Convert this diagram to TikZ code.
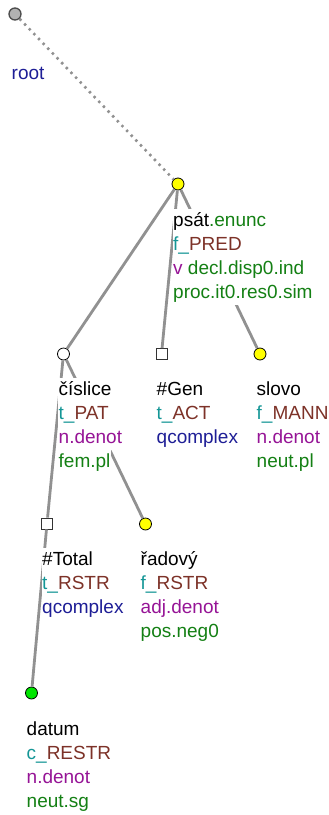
\documentclass[tikz,border=0pt]{standalone}
\usepackage{fontspec}
\setmainfont{Liberation Sans}
\definecolor{cgreen}{RGB}{20,128,20}
\definecolor{cteal}{RGB}{20,150,150}
\definecolor{cbrown}{RGB}{125,50,40}
\definecolor{cpurple}{RGB}{150,20,150}
\definecolor{cblue}{RGB}{30,30,150}
\definecolor{cedge}{RGB}{145,145,145}
\definecolor{cyell}{RGB}{255,255,0}
\definecolor{cgreenn}{RGB}{0,230,0}
\tikzset{
  tcirc/.style={circle, draw=black, line width=0.8pt, minimum size=12pt, inner sep=0pt},
  tsq/.style={rectangle, draw=black!80, line width=0.8pt, fill=white, minimum size=11pt, inner sep=0pt},
  edge/.style={draw=cedge, line width=2.8pt},
  lbl/.style={anchor=base west, fill=white, inner xsep=0.5pt, inner ysep=2pt, text height=15pt, text depth=5pt, font=\fontsize{19}{24}\selectfont}
}
\begin{document}
\begin{tikzpicture}[x=1pt,y=-1pt]
\useasboundingbox (0,0) rectangle (329,815);
% tree nodes
\node[tcirc, fill=black!30, draw=black!70, line width=1.3pt] (root) at (15,14) {};
\node[tcirc, fill=cyell] (psat) at (178,184) {};
\node[tcirc, fill=white] (cislice) at (63.5,354) {};
\node[tsq] (gen) at (161.5,354) {};
\node[tcirc, fill=cyell] (slovo) at (260,354) {};
\node[tsq] (total) at (47,523.5) {};
\node[tcirc, fill=cyell] (radovy) at (145.5,524) {};
\node[tcirc, fill=cgreenn] (datum) at (31.5,693) {};
% edges
\draw[cedge, line width=2.6pt, dash pattern=on 2.4pt off 4.3pt] (root) -- (psat);
\draw[edge] (psat) -- (cislice);
\draw[edge] (psat) -- (gen);
\draw[edge] (psat) -- (slovo);
\draw[edge] (cislice) -- (total);
\draw[edge] (cislice) -- (radovy);
\draw[edge] (total) -- (datum);
% labels
\node[lbl] (rootl) at (11,79) {\textcolor{cblue}{root}};
\node[lbl] (psat1) at (172.5,226) {psát\textcolor{cgreen}{.enunc}};
\node[lbl] (psat2) at (172.5,250) {\textcolor{cteal}{f\_}\textcolor{cbrown}{PRED}};
\node[lbl] (psat3) at (172.5,274) {\textcolor{cpurple}{v} \textcolor{cgreen}{decl.disp0.ind}};
\node[lbl] (psat4) at (172.5,298) {\textcolor{cgreen}{proc.it0.res0.sim}};
\node[lbl] (cis1) at (58,395) {číslice};
\node[lbl] (cis2) at (58,419) {\textcolor{cteal}{t\_}\textcolor{cbrown}{PAT}};
\node[lbl] (cis3) at (58,443) {\textcolor{cpurple}{n.denot}};
\node[lbl] (cis4) at (58,467) {\textcolor{cgreen}{fem.pl}};
\node[lbl] (gen1) at (156,395) {\#Gen};
\node[lbl] (gen2) at (156,419) {\textcolor{cteal}{t\_}\textcolor{cbrown}{ACT}};
\node[lbl] (gen3) at (156,443) {\textcolor{cblue}{qcomplex}};
\node[lbl] (slo1) at (256,395) {slovo};
\node[lbl] (slo2) at (256,419) {\textcolor{cteal}{f\_}\textcolor{cbrown}{MANN}};
\node[lbl] (slo3) at (256,443) {\textcolor{cpurple}{n.denot}};
\node[lbl] (slo4) at (256,467) {\textcolor{cgreen}{neut.pl}};
\node[lbl] (tot1) at (41.5,565) {\#Total};
\node[lbl] (tot2) at (41.5,589) {\textcolor{cteal}{t\_}\textcolor{cbrown}{RSTR}};
\node[lbl] (tot3) at (41.5,613) {\textcolor{cblue}{qcomplex}};
\node[lbl] (rad1) at (140,565) {řadový};
\node[lbl] (rad2) at (140,589) {\textcolor{cteal}{f\_}\textcolor{cbrown}{RSTR}};
\node[lbl] (rad3) at (140,613) {\textcolor{cpurple}{adj.denot}};
\node[lbl] (rad4) at (140,637) {\textcolor{cgreen}{pos.neg0}};
\node[lbl] (dat1) at (26,735) {datum};
\node[lbl] (dat2) at (26,759) {\textcolor{cteal}{c\_}\textcolor{cbrown}{RESTR}};
\node[lbl] (dat3) at (26,783) {\textcolor{cpurple}{n.denot}};
\node[lbl] (dat4) at (26,807) {\textcolor{cgreen}{neut.sg}};
\end{tikzpicture}
\end{document}
